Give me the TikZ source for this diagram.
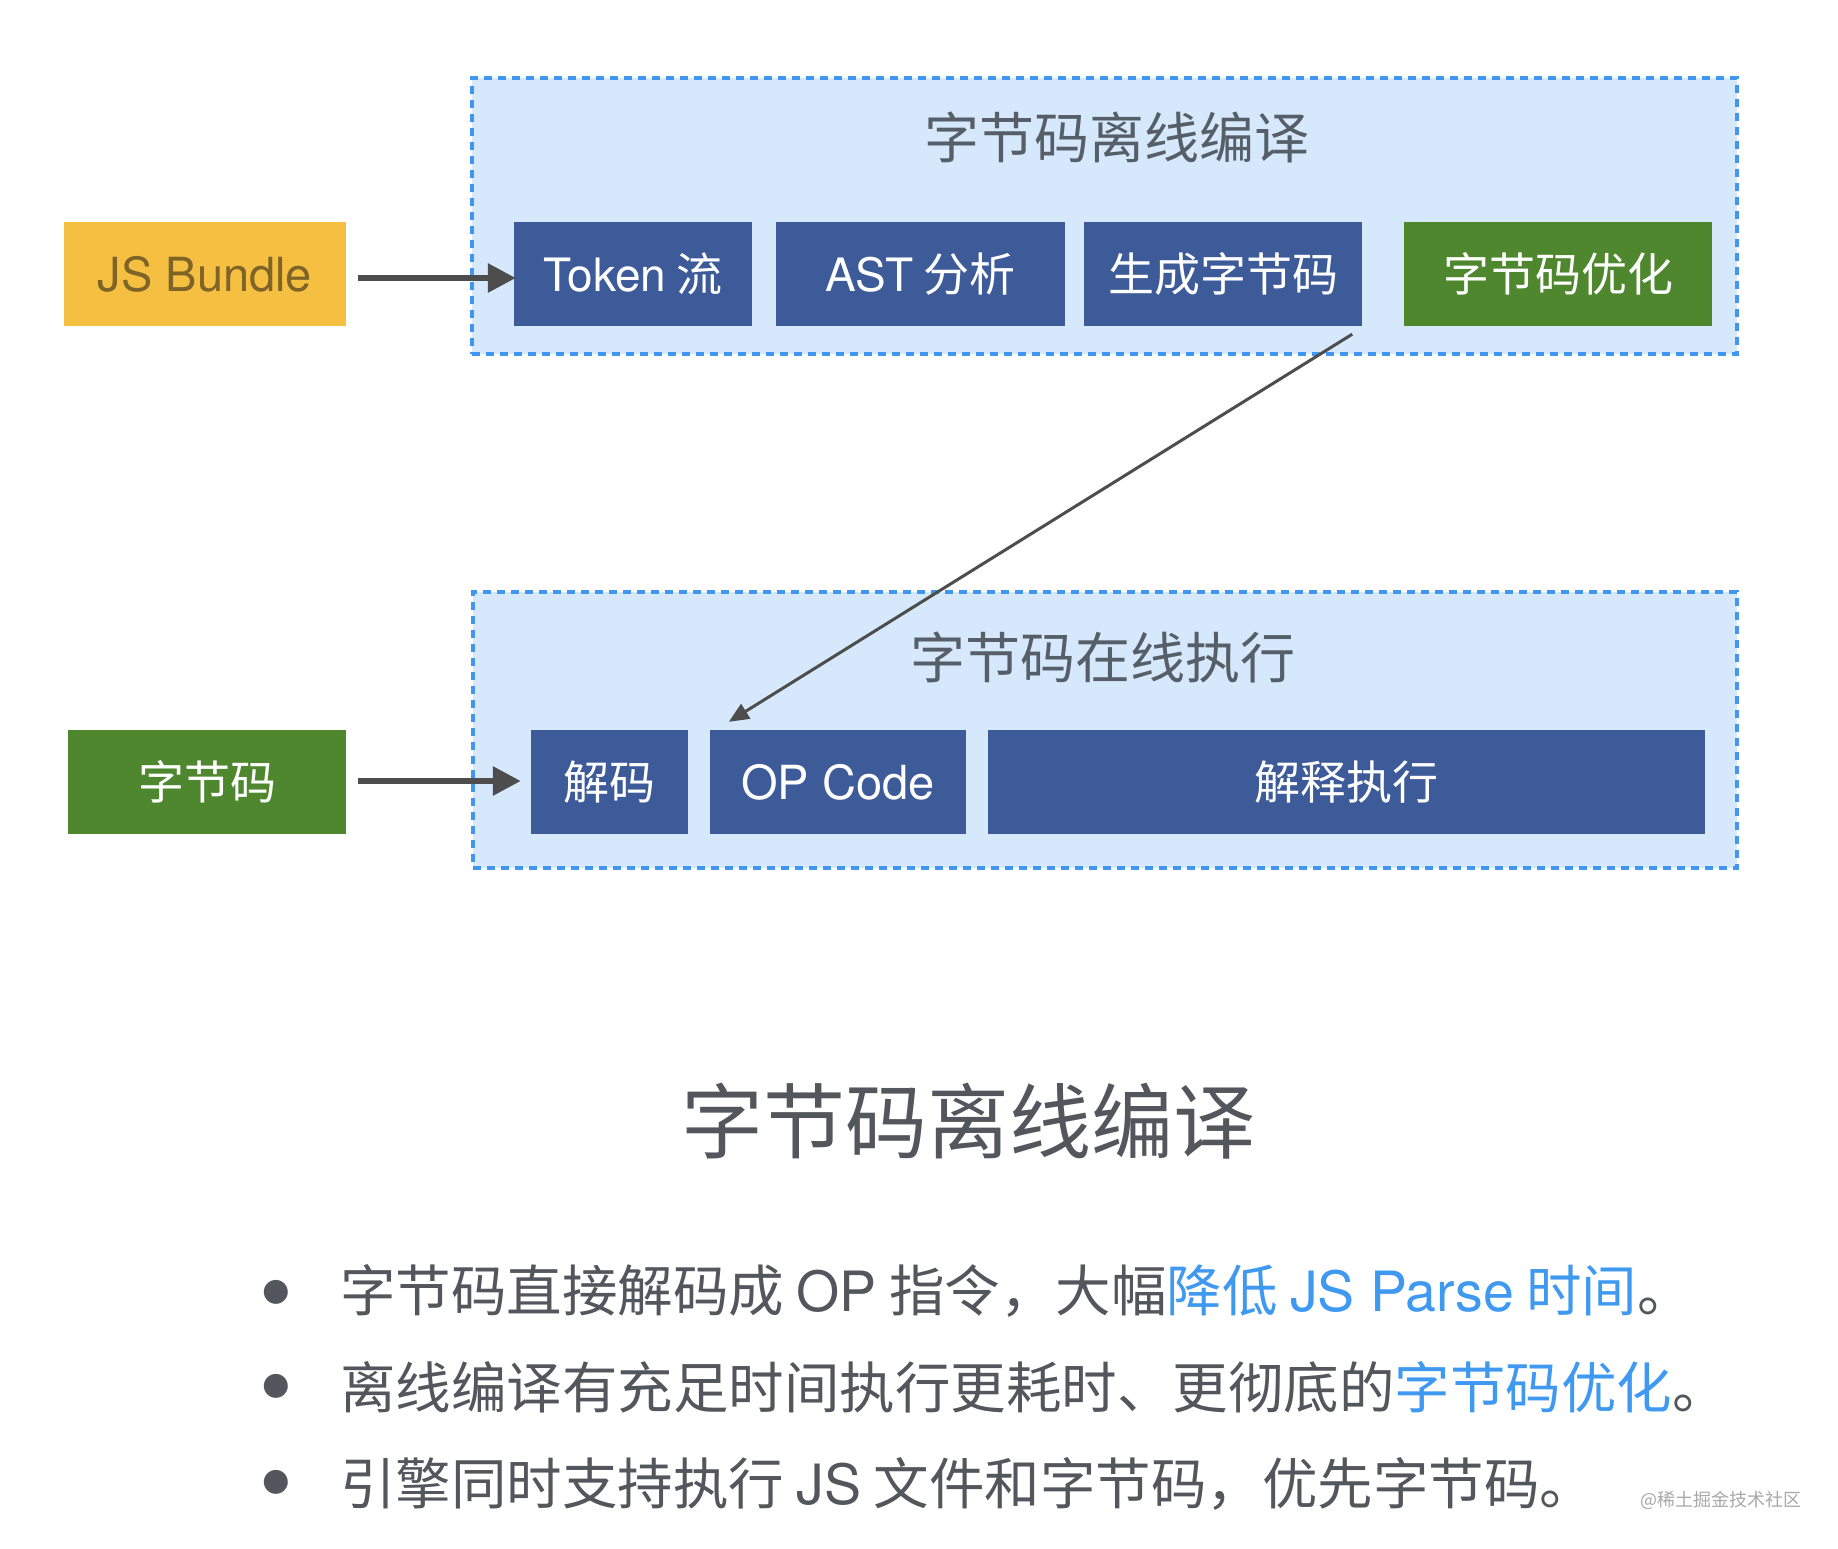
\documentclass[tikz,border=0pt]{standalone}
\usepackage{fontspec}
\setmainfont{Noto Sans CJK SC}
\newfontfamily\lat{TeX Gyre Heros}
\usetikzlibrary{arrows.meta}
\definecolor{panelfill}{HTML}{D5E8FC}
\definecolor{paneldash}{HTML}{4196F0}
\definecolor{navy}{HTML}{3D5B99}
\definecolor{leaf}{HTML}{4E872D}
\definecolor{gold}{HTML}{F5BF42}
\definecolor{goldtext}{HTML}{7F6427}
\definecolor{arrowgray}{HTML}{4D4D4D}
\definecolor{titlegray}{HTML}{565E68}
\definecolor{bodygray}{HTML}{53565C}
\definecolor{hl}{HTML}{4099F0}
\definecolor{wmgray}{HTML}{A8A8A8}
\begin{document}
\begin{tikzpicture}[x=1pt,y=-1pt,
  panel/.style={draw=paneldash,fill=panelfill,line width=3.5pt,dash pattern=on 8pt off 6pt,inner sep=0,minimum height=276pt},
  procbox/.style={fill=navy,text=white,inner sep=0,minimum height=104pt,font=\fontsize{46}{50}\selectfont},
  greenbox/.style={procbox,fill=leaf},
  panellabel/.style={inner sep=0,text=titlegray,font=\fontsize{55}{60}\selectfont},
  thickarrow/.style={draw=arrowgray,fill=arrowgray,line width=6pt,-{Triangle[length=28pt,width=28pt]}},
  thinarrow/.style={draw=arrowgray,line width=3pt,-{Triangle[length=20pt,width=17pt]}},
  bodytext/.style={inner sep=0,anchor=base west,text=bodygray,font=\fontsize{55.5}{60}\selectfont},
  bulletmark/.style={inner sep=0,anchor=center,text=bodygray,font=\lat\fontsize{96}{100}\selectfont}
]
\useasboundingbox (0,0) rectangle (1838,1548);
\fill[white] (0,0) rectangle (1838,1548);

% panels
\node[panel,minimum width=1265pt] (top) at (1104.5,216) {};
\node[panel,minimum width=1264pt] (bot) at (1105,730) {};
\node[panellabel] (toptitle) at (1117,137) {字节码离线编译};
\node[panellabel] (bottitle) at (1103,657) {字节码在线执行};

% top row
\node[procbox,fill=gold,text=goldtext,minimum width=282pt,font=\lat\fontsize{47}{50}\selectfont] (js) at (205,274) {JS Bundle};
\node[procbox,minimum width=238pt] (tok) at (633,274) {{\lat Token} 流};
\node[procbox,minimum width=289pt] (ast) at (920.5,274) {{\lat AST} 分析};
\node[procbox,minimum width=278pt] (gen) at (1223,274) {生成字节码};
\node[greenbox,minimum width=308pt] (opt) at (1558,274) {字节码优化};

% bottom row
\node[greenbox,minimum width=278pt] (bc) at (207,782) {字节码};
\node[procbox,minimum width=157pt] (dec) at (609.5,782) {解码};
\node[procbox,minimum width=256pt,font=\lat\fontsize{47}{50}\selectfont] (op) at (838,782) {OP Code};
\node[procbox,minimum width=717pt] (run) at (1346.5,782) {解释执行};

% connectors
\draw[thickarrow] ([shift={(12,4)}]js.east) -- ([shift={(2,4)}]tok.west);
\draw[thickarrow] ([shift={(12,-1)}]bc.east) -- ([shift={(-10,-1)}]dec.west);
\draw[thinarrow] ([shift={(-10,8)}]gen.south east) -- ([shift={(19,-8)}]op.north west);

% lower text
\node[inner sep=0,text=bodygray,font=\fontsize{82}{90}\selectfont] (heading) at (968,1121) {字节码离线编译};

\node[bulletmark] (b1) at (276,1303) {•};
\node[bulletmark] (b2) at (276,1397) {•};
\node[bulletmark] (b3) at (276,1493) {•};
\node[bodytext] (l1) at (340,1311) {字节码直接解码成 {\lat OP} 指令，大幅\textcolor{hl}{降低 {\lat JS Parse} 时间}。};
\node[bodytext] (l2) at (340,1408) {离线编译有充足时间执行更耗时、更彻底的\textcolor{hl}{字节码优化}。};
\node[bodytext] (l3) at (340,1504) {引擎同时支持执行 {\lat JS} 文件和字节码，优先字节码。};

\node[inner sep=0,anchor=base west,text=wmgray,font=\fontsize{18}{20}\selectfont] (wm) at (1640,1506) {@稀土掘金技术社区};
\end{tikzpicture}
\end{document}
